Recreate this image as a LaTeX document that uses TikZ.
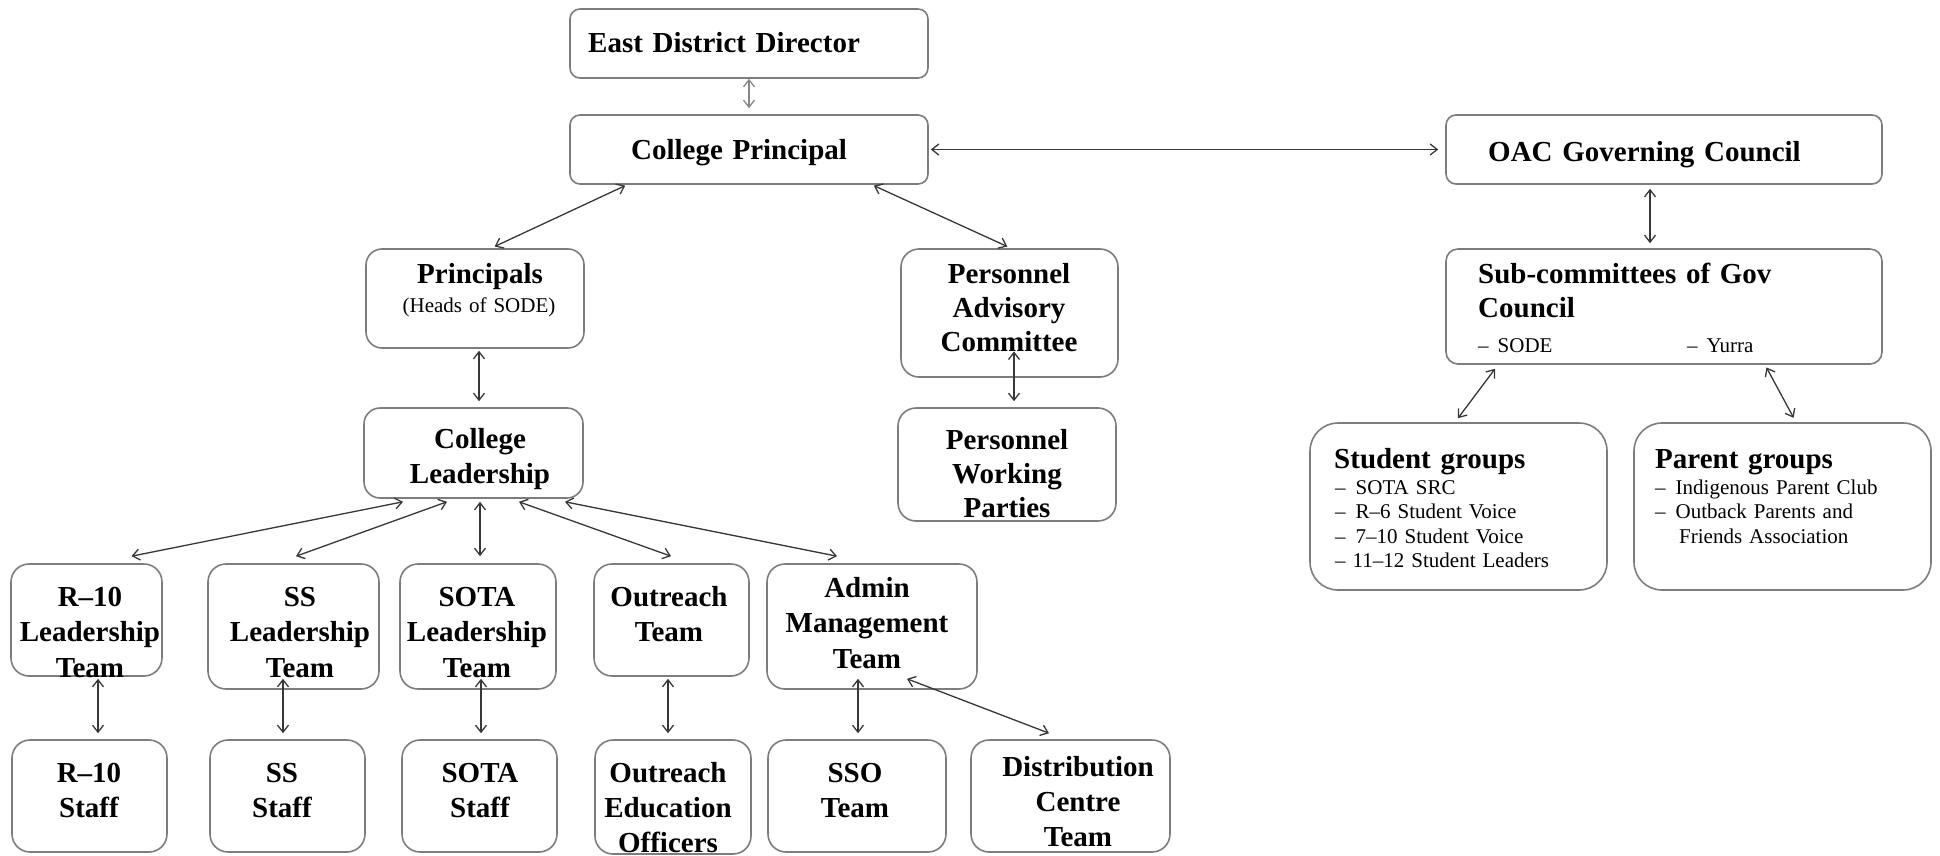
\documentclass[tikz,border=0pt]{standalone}
\usepackage{fontspec}
\setmainfont{Liberation Serif}
\usetikzlibrary{arrows.meta}

\definecolor{boxgray}{RGB}{125,125,125}
\definecolor{linegray}{RGB}{55,55,55}
\definecolor{lightline}{RGB}{135,135,135}

\begin{document}
\begin{tikzpicture}[x=1pt,y=-1pt,>={Straight Barb[length=7pt,width=11pt]}]
    \tikzstyle{unit}=[rectangle, draw=boxgray, line width=1.6pt, rounded corners=13pt, inner sep=0pt]
    \tikzstyle{ttl}=[font=\bfseries\fontsize{29}{35.5}\selectfont, inner sep=0pt, anchor=base, align=center, text width=215pt]
    \tikzstyle{ttlw}=[ttl, anchor=base west, align=left, text width=420pt]
    \tikzstyle{item}=[font=\fontsize{21}{24.5}\selectfont, inner sep=0pt, anchor=base west, align=left, text width=280pt]
    \tikzstyle{link}=[<->, draw=linegray, line width=1.3pt]

    \useasboundingbox (0,0) rectangle (1940,856);

    %%% DRAW THE BOXES
    \node[unit, rounded corners=10pt, minimum width=358pt, minimum height=69pt] (EDD) at (749,43.5) {};
    \node[unit, rounded corners=10pt, minimum width=358pt, minimum height=69pt] (CP) at (749,149.5) {};
    \node[unit, rounded corners=10pt, minimum width=436pt, minimum height=69pt] (OAC) at (1664,149.5) {};
    \node[unit, rounded corners=12pt, minimum width=436pt, minimum height=115pt] (SUB) at (1664,306.5) {};
    \node[unit, rounded corners=16pt, minimum width=218pt, minimum height=99pt] (PRIN) at (475,298.5) {};
    \node[unit, rounded corners=16pt, minimum width=219pt, minimum height=90pt] (CL) at (473.5,453) {};
    \node[unit, rounded corners=18pt, minimum width=217pt, minimum height=128pt] (PAC) at (1009.5,313) {};
    \node[unit, rounded corners=18pt, minimum width=218pt, minimum height=113pt] (PWP) at (1007,464.5) {};
    \node[unit, rounded corners=28pt, minimum width=297pt, minimum height=167pt] (SG) at (1458.5,506.5) {};
    \node[unit, rounded corners=28pt, minimum width=297pt, minimum height=167pt] (PG) at (1782.5,506.5) {};

    \foreach \name / \x / \y / \w / \h in {1/86.5/620/151/112, 2/293.5/626.5/171/125, 3/478/626.5/156/125, 4/671.5/620/155/112, 5/872/626.5/210/125}
        \node[unit, rounded corners=18pt, minimum width=\w pt, minimum height=\h pt] (L-\name) at (\x,\y) {};

    \foreach \name / \x / \y / \w / \h in {1/89.5/796/155/112, 2/287.5/796/155/112, 3/479.5/796/155/112, 4/673/797/156/114, 5/857/796/178/112, 6/1070.5/796/199/112}
        \node[unit, rounded corners=18pt, minimum width=\w pt, minimum height=\h pt] (S-\name) at (\x,\y) {};

    %%% DRAW THE TEXTS
    \node[ttlw] (EDD-t) at (588,53) {East District Director};
    \node[ttl, text width=320pt] (CP-t) at (739,160) {College Principal};
    \node[ttlw] (OAC-t) at (1488,161) {OAC Governing Council};
    \node[ttlw, font=\bfseries\fontsize{29}{34}\selectfont] (SUB-t) at (1478,283) {Sub-committees of Gov\\Council};
    \node[item] (SUB-i) at (1478,352) {\makebox[209pt][l]{–\hspace{9pt}SODE}–\hspace{9pt}Yurra};
    \node[ttl] (PRIN-t) at (480,283) {Principals};
    \node[item, anchor=base, align=center, text width=215pt] (PRIN-s) at (479,312) {(Heads of SODE)};
    \node[ttl] (CL-t) at (480,448) {College\\Leadership};
    \node[ttl, font=\bfseries\fontsize{29}{34}\selectfont] (PAC-t) at (1009,283) {Personnel\\Advisory\\Committee};
    \node[ttl, font=\bfseries\fontsize{29}{34}\selectfont] (PWP-t) at (1007,449) {Personnel\\Working\\Parties};
    \node[ttlw] (SG-t) at (1334,468) {Student groups};
    \node[item] (SG-i) at (1335,494) {–\hspace{10pt}SOTA SRC\\–\hspace{10pt}R–6 Student Voice\\–\hspace{10pt}7–10 Student Voice\\– 11–12 Student Leaders};
    \node[ttlw] (PG-t) at (1655,468) {Parent groups};
    \node[item] (PG-i) at (1655,494) {–\hspace{10pt}Indigenous Parent Club\\–\hspace{10pt}Outback Parents and\\\hspace*{24pt}Friends Association};

    \foreach \name / \x / \y / \txt in {1/90/606/{R–10\\Leadership\\Team}, 2/300/606/{SS\\Leadership\\Team}, 3/477/606/{SOTA\\Leadership\\Team}, 4/669/606/{Outreach\\Team}, 5/867/597/{Admin\\Management\\Team}}
        \node[ttl] (L-\name-t) at (\x,\y) {\txt};

    \foreach \name / \x / \y / \txt in {1/89/782/{R–10\\Staff}, 2/282/782/{SS\\Staff}, 3/480/782/{SOTA\\Staff}, 4/668/782/{Outreach\\Education\\Officers}, 5/855/782/{SSO\\Team}, 6/1078/776/{Distribution\\Centre\\Team}}
        \node[ttl, font=\bfseries\fontsize{29}{35}\selectfont] (S-\name-t) at (\x,\y) {\txt};

    %%% DRAW THE CONNECTORS
    \draw[link, draw=lightline, shorten >=6pt] (EDD.south) -- (CP.north);
    \draw[link, shorten <=2pt, shorten >=7pt] (CP.east) -- (OAC.west);
    \draw[link, shorten <=2pt, shorten >=4pt] ([xshift=-122pt]CP.south) -- ([xshift=16pt]PRIN.north);
    \draw[link, shorten <=2pt, shorten >=4pt] ([xshift=123pt]CP.south) -- ([xshift=1.5pt]PAC.north);
    \draw[link, shorten <=2pt, shorten >=6pt] ([xshift=4pt]PRIN.south) -- ([xshift=5.5pt]CL.north);
    \draw[link, shorten >=6pt] ([xshift=5pt]PAC-t.south) -- ([xshift=7pt]PWP.north);
    \draw[link, shorten <=4pt, shorten >=5pt] ([xshift=-14pt]OAC.south) -- ([xshift=-14pt]SUB.north);
    \draw[link, shorten <=5pt, shorten >=5pt] ([xshift=-166pt]SUB.south) -- ([xshift=-3.5pt]SG.north);
    \draw[link, shorten <=3pt, shorten >=5pt] ([xshift=101pt]SUB.south) -- ([xshift=13.5pt]PG.north);

    \foreach \i / \a / \b in {1/-70.5/45, 2/-26.5/2.5, 3/6.5/2, 4/45.5/-0.5, 5/91.5/-35}
        \draw[link] ([xshift=\a pt,yshift=-3pt]CL.south) -- ([xshift=\b pt,yshift=7pt]L-\i.north);

    \foreach \i / \a / \b / \c in {1/11.5/-2/8.5, 2/-10.5/11/-4.5, 3/3/11/1.5, 4/-3.5/-2/-5, 5/-14/11/1}
        \draw[link, shorten >=6pt] ([xshift=\a pt,yshift=\b pt]L-\i.south) -- ([xshift=\c pt]S-\i.north);
    \draw[link] ([xshift=35pt,yshift=11pt]L-5.south) -- ([xshift=-21.5pt,yshift=6pt]S-6.north);

\end{tikzpicture}
\end{document}
